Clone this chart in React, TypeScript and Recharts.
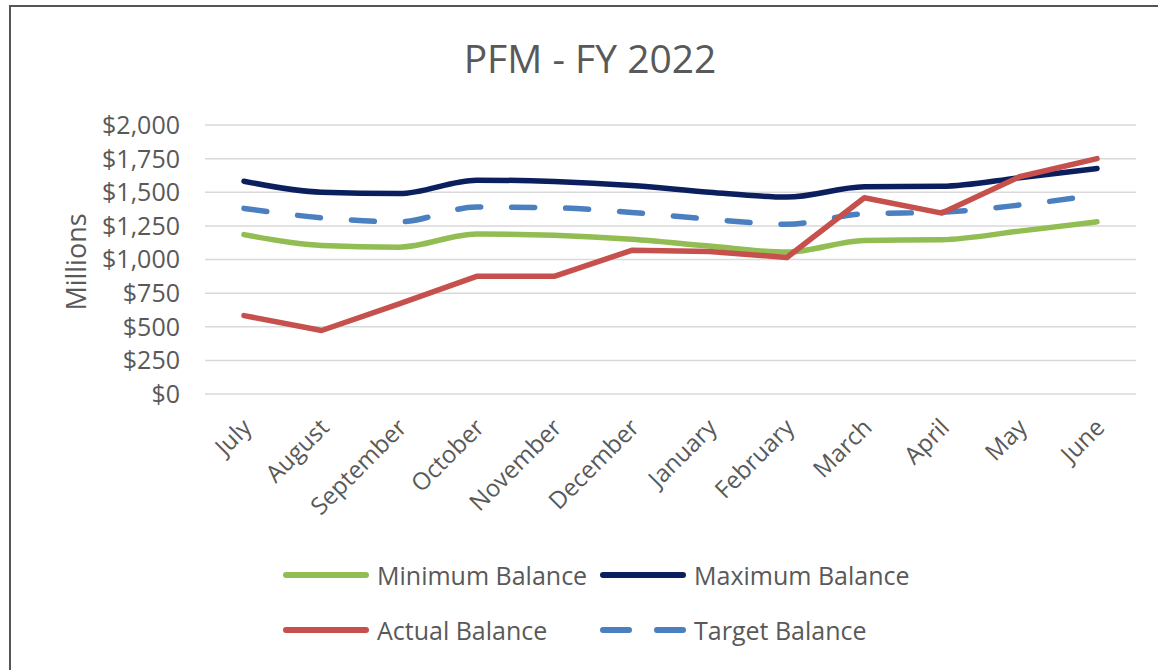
import { LineChart, Line, XAxis, YAxis, CartesianGrid } from "recharts";

const months = [
  "July",
  "August",
  "September",
  "October",
  "November",
  "December",
  "January",
  "February",
  "March",
  "April",
  "May",
  "June",
];

const minimumBalance = [1185, 1105, 1092, 1190, 1180, 1150, 1100, 1055, 1142, 1147, 1211, 1280];
const maximumBalance = [1582, 1500, 1490, 1590, 1580, 1550, 1500, 1464, 1540, 1544, 1608, 1677];
const targetBalance = [1380, 1310, 1280, 1390, 1385, 1350, 1300, 1262, 1340, 1352, 1405, 1480];
const actualBalance = [583, 472, 670, 875, 875, 1068, 1060, 1015, 1459, 1345, 1615, 1750];

const yTicks = [0, 250, 500, 750, 1000, 1250, 1500, 1750, 2000];

const chartData = months.map((month, i) => ({
  month,
  minimum: minimumBalance[i],
  maximum: maximumBalance[i],
  target: targetBalance[i],
  actual: actualBalance[i],
}));

const FONT = "'Open Sans', sans-serif";
const TEXT = "#595959";

const COLORS = {
  minimum: "#92bd52",
  maximum: "#0b1f5e",
  actual: "#c5504c",
  target: "#4a7fc0",
};

const formatMoney = (v: number) => "$" + v.toLocaleString("en-US");

const MonthTick = (props: any) => {
  const { x, y, payload } = props;
  const tx = x + 9;
  const ty = y + 27;
  return (
    <text
      x={tx}
      y={ty}
      transform={`rotate(-45, ${tx}, ${ty})`}
      textAnchor="end"
      fill={TEXT}
      fontSize={24}
      fontFamily={FONT}
    >
      {payload.value}
    </text>
  );
};

const legendItems = [
  { label: "Minimum Balance", color: COLORS.minimum, dashed: false, left: 283, top: 575 },
  { label: "Maximum Balance", color: COLORS.maximum, dashed: false, left: 600, top: 575 },
  { label: "Actual Balance", color: COLORS.actual, dashed: false, left: 283, top: 630 },
  { label: "Target Balance", color: COLORS.target, dashed: true, left: 600, top: 630 },
];

export default function App() {
  return (
    <div
      style={{
        position: "fixed",
        left: 0,
        top: 0,
        width: 1158,
        height: 670,
        background: "#fff",
        overflow: "hidden",
        fontFamily: FONT,
      }}
    >
      <div
        style={{
          position: "absolute",
          left: 9,
          top: 5,
          width: 1170,
          height: 700,
          border: "2px solid #555555",
        }}
      />

      <div
        style={{
          position: "absolute",
          left: 0,
          width: 1180,
          top: 38,
          textAlign: "center",
          fontSize: 39,
          lineHeight: 1,
          color: TEXT,
        }}
      >
        PFM - FY 2022
      </div>

      <div
        style={{
          position: "absolute",
          left: 75,
          top: 262,
          transform: "translate(-50%, -50%) rotate(-90deg)",
          fontSize: 27,
          lineHeight: 1,
          color: TEXT,
          whiteSpace: "nowrap",
        }}
      >
        Millions
      </div>

      <div style={{ position: "absolute", left: 0, top: 0 }}>
        <LineChart
          width={1158}
          height={560}
          data={chartData}
          margin={{ top: 125, right: 22, left: 0, bottom: 0 }}
        >
          <CartesianGrid vertical={false} stroke="#d9d9d9" strokeWidth={1.5} />
          <XAxis
            dataKey="month"
            axisLine={false}
            tickLine={false}
            height={166}
            interval={0}
            padding={{ left: 39, right: 39 }}
            tick={<MonthTick />}
          />
          <YAxis
            width={205}
            domain={[0, 2000]}
            ticks={yTicks}
            axisLine={false}
            tickLine={false}
            tickSize={0}
            tickMargin={25}
            tickFormatter={formatMoney}
            tick={{ fill: TEXT, fontSize: 25, fontFamily: FONT }}
          />
          <Line
            type="monotone"
            dataKey="minimum"
            stroke={COLORS.minimum}
            strokeWidth={5.5}
            strokeLinecap="round"
            dot={false}
            isAnimationActive={false}
          />
          <Line
            type="monotone"
            dataKey="maximum"
            stroke={COLORS.maximum}
            strokeWidth={5.5}
            strokeLinecap="round"
            dot={false}
            isAnimationActive={false}
          />
          <Line
            type="monotone"
            dataKey="target"
            stroke={COLORS.target}
            strokeWidth={5.5}
            strokeDasharray="23 31"
            strokeLinecap="round"
            dot={false}
            isAnimationActive={false}
          />
          <Line
            type="linear"
            dataKey="actual"
            stroke={COLORS.actual}
            strokeWidth={5.5}
            strokeLinecap="round"
            strokeLinejoin="round"
            dot={false}
            isAnimationActive={false}
          />
        </LineChart>
      </div>

      {legendItems.map((item) => (
        <div
          key={item.label}
          style={{
            position: "absolute",
            left: item.left,
            top: item.top - 16,
            height: 32,
            display: "flex",
            alignItems: "center",
            gap: 8,
          }}
        >
          <svg width={86} height={10}>
            <line
              x1={3}
              y1={5}
              x2={83}
              y2={5}
              stroke={item.color}
              strokeWidth={6}
              strokeLinecap="round"
              strokeDasharray={item.dashed ? "26 28" : undefined}
            />
          </svg>
          <span style={{ fontSize: 25, color: TEXT, lineHeight: 1 }}>{item.label}</span>
        </div>
      ))}
    </div>
  );
}
